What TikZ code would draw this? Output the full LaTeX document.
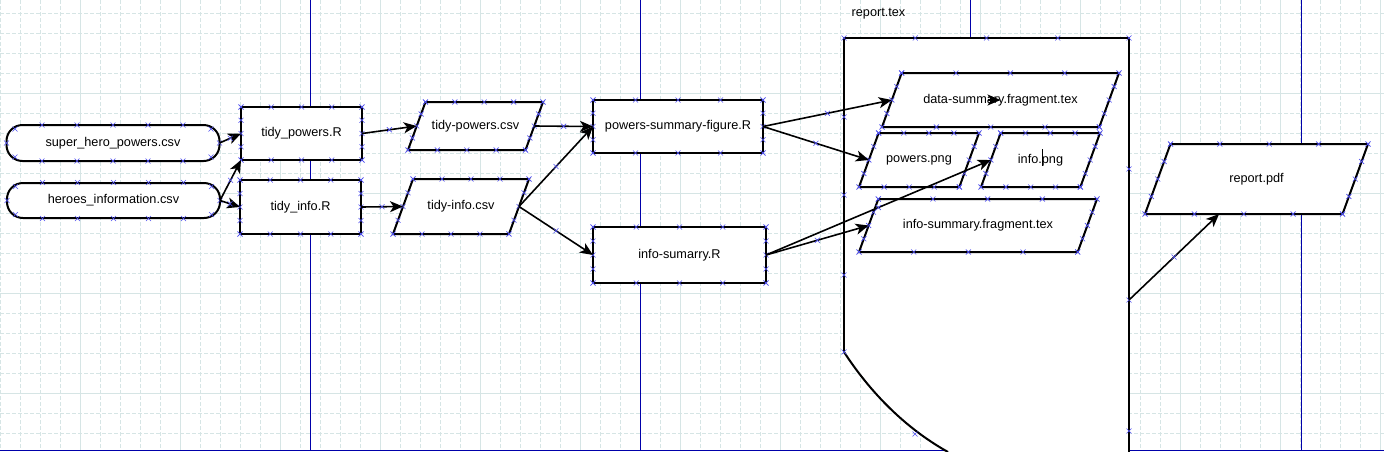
\documentclass[tikz,border=0pt]{standalone}
\usepackage{fontspec}
\setmainfont{Liberation Sans}
\usetikzlibrary{arrows.meta,calc}
\definecolor{gridc}{RGB}{214,229,229}
\definecolor{guide}{RGB}{0,0,170}
\definecolor{markc}{RGB}{80,80,240}
\newcommand\diaglbl{\fontsize{12.7}{15}\selectfont}
\tikzset{
  xmark/.pic={\draw[markc,line width=0.6pt,-,solid] (-2.5,-2.5)--(2.5,2.5) (-2.5,2.5)--(2.5,-2.5);},
  box/.style={draw, line width=2pt, fill=white, rectangle, inner sep=0pt, outer sep=0pt, font=\diaglbl},
  stad/.style={draw, line width=2pt, fill=white, rectangle, rounded corners=16pt, inner sep=0pt, outer sep=0pt, font=\diaglbl},
  paraline/.style={draw, line width=2pt, fill=white, line join=miter},
  conn/.style={draw, line width=1.6pt, -{Stealth[length=13pt,width=11pt,inset=3.5pt]}},
  gridminor/.style={gridc, line width=0.8pt, dash pattern=on 3.5pt off 2.5pt},
  gridmajor/.style={gridc, line width=0.8pt},
}
% marks at corners and quarter points of a four-sided shape: tl, tr, bl, br
\newcommand\quadmarks[4]{%
  \foreach \f in {0,0.25,0.5,0.75,1}{%
    \pic at ($(#1)!\f!(#2)$) {xmark};
    \pic at ($(#3)!\f!(#4)$) {xmark};
    \pic at ($(#1)!\f!(#3)$) {xmark};
    \pic at ($(#2)!\f!(#4)$) {xmark};
  }}
\newcommand\stadmarks[1]{%
  \foreach \dx/\dy in {-98/-14,-71/-18,-36/-18,0/-18,35/-18,70/-18,98/-14,
                       -98/14,-71/18,-36/18,0/18,35/18,70/18,98/14,-106.5/0,106.5/0}{%
    \pic at ($(#1.center)+(\dx,\dy)$) {xmark};
  }}
% parallelogram: name, cx, cy, width, height, text
\newcommand\para[6]{%
  \pgfmathsetmacro\pslant{0.364*#5}%
  \coordinate (#1-bl) at ({#2-#4/2},{#3+#5/2});
  \coordinate (#1-tl) at ({#2-#4/2+\pslant},{#3-#5/2});
  \coordinate (#1-tr) at ({#2+#4/2},{#3-#5/2});
  \coordinate (#1-br) at ({#2+#4/2-\pslant},{#3+#5/2});
  \path[paraline] (#1-bl) -- (#1-tl) -- (#1-tr) -- (#1-br) -- cycle;
  \coordinate (#1-l) at ($(#1-bl)!0.5!(#1-tl)$);
  \coordinate (#1-r) at ($(#1-br)!0.5!(#1-tr)$);
  \node[font=\diaglbl, inner sep=0pt] (#1) at (#2,#3) {#6};
}
\begin{document}
\begin{tikzpicture}[x=1pt,y=-1pt]
\useasboundingbox (0,0) rectangle (1384,451);
\clip (0,0) rectangle (1384,451);
\fill[white] (0,0) rectangle (1384,451);
% grid
\foreach \gx in {0,20,...,1380} \draw[gridminor] (\gx,0) -- (\gx,451);
\foreach \gy in {13,33,...,433} \draw[gridminor] (0,\gy) -- (1384,\gy);
\foreach \gx in {80,180,...,1380} \draw[gridmajor] (\gx,0) -- (\gx,451);
\foreach \gy in {93,193,293,393} \draw[gridmajor] (0,\gy) -- (1384,\gy);
% guides
\draw[guide,line width=1pt] (310,0)--(310,451) (640,0)--(640,451) (970,0)--(970,451) (1301,0)--(1301,451);
\draw[guide,line width=1.6pt] (0,450.3)--(1384,450.3);

% report.tex container
\node[minimum width=285pt, minimum height=524pt, inner sep=0pt, outer sep=0pt] (rtex) at (986.5,300) {};
\fill[white] (844,38) -- (1129,38) -- (1129,470) -- (960,470) -- (948,452)
  .. controls (905,428) and (870,392) .. (844,352) -- cycle;
\draw[line width=2pt] (844,352) -- (844,38) -- (1129,38) -- (1129,470);
\draw[line width=2pt] (844,352) .. controls (870,392) and (905,428) .. (948,452);
\node[font=\diaglbl, inner sep=0pt] (rtexlbl) at (878.5,14) {report.tex};
\foreach \mx/\my in {844/38,915.25/38,986.5/38,1057.75/38,1129/38,844/117,844/195,844/275,844/352,
                     1129/169,1129/300,1129/431,915/434}{\pic at (\mx,\my) {xmark};}

% nodes
\node[stad, minimum width=213pt, minimum height=36pt] (shp) at (113,143) {super\_hero\_powers.csv};
\node[stad, minimum width=213pt, minimum height=35pt] (her) at (113.5,200.5) {heroes\_information.csv};
\node[box, minimum width=121pt, minimum height=53pt] (tpow) at (301.5,133.5) {tidy\_powers.R};
\node[box, minimum width=121pt, minimum height=54pt] (tinfo) at (300.5,207) {tidy\_info.R};
\para{tpc}{475.5}{126}{135}{48}{tidy-powers.csv}
\para{tic}{461}{206.5}{136}{55}{tidy-info.csv}
\node[box, minimum width=170pt, minimum height=53pt] (psf) at (678,126.5) {powers-summary-figure.R};
\node[box, minimum width=173pt, minimum height=56pt] (ism) at (679.5,255) {info-sumarry.R};
\para{ds}{1000.5}{100}{237}{54}{data-summary.fragment.tex}
\para{ppng}{919}{160}{120}{54}{powers.png}
\para{ipng}{1040.5}{160}{119}{54}{info.png}
\para{isf}{978}{225.5}{238}{53}{info-summary.fragment.tex}
\para{pdf}{1256.5}{179}{223}{70}{report.pdf}

% connection marks
\stadmarks{shp}
\stadmarks{her}
\quadmarks{tpow.north west}{tpow.north east}{tpow.south west}{tpow.south east}
\quadmarks{tinfo.north west}{tinfo.north east}{tinfo.south west}{tinfo.south east}
\quadmarks{psf.north west}{psf.north east}{psf.south west}{psf.south east}
\quadmarks{ism.north west}{ism.north east}{ism.south west}{ism.south east}
\quadmarks{tpc-tl}{tpc-tr}{tpc-bl}{tpc-br}
\quadmarks{tic-tl}{tic-tr}{tic-bl}{tic-br}
\quadmarks{ds-tl}{ds-tr}{ds-bl}{ds-br}
\quadmarks{ppng-tl}{ppng-tr}{ppng-bl}{ppng-br}
\quadmarks{ipng-tl}{ipng-tr}{ipng-bl}{ipng-br}
\quadmarks{isf-tl}{isf-tr}{isf-bl}{isf-br}
\quadmarks{pdf-tl}{pdf-tr}{pdf-bl}{pdf-br}

% connectors
\draw[conn] (shp.east) -- pic[pos=0.5]{xmark} (tpow.west);
\draw[conn] (her.east) -- pic[pos=0.5]{xmark} (tpow.south west);
\draw[conn] (her.east) -- pic[pos=0.5]{xmark} (tinfo.west);
\draw[conn] (tpow.east) -- pic[pos=0.5]{xmark} (tpc-l);
\draw[conn] (tinfo.east) -- pic[pos=0.5]{xmark} (tic-l);
\draw[conn] (tpc-r) -- pic[pos=0.5]{xmark} (psf.west);
\draw[conn] (tic-r) -- pic[pos=0.5]{xmark} (psf.west);
\draw[conn] (tic-r) -- pic[pos=0.5]{xmark} (ism.west);
\draw[conn] (psf.east) -- pic[pos=0.5]{xmark} (ds-l);
\draw[conn] (psf.east) -- pic[pos=0.5]{xmark} (ppng-l);
\draw[conn] (ism.east) -- pic[pos=0.5]{xmark} (ipng-l);
\draw[conn] (ism.east) -- pic[pos=0.5]{xmark} (isf-l);
\draw[conn] (rtex.east) -- pic[pos=0.5]{xmark} ($(pdf-bl)!0.375!(pdf-br)$);

% stray artefacts
\draw[conn] ($(ds.center)+(-13,0)$) -- (ds.center);
\draw[line width=0.8pt] ($(ipng.center)+(1.5,-11)$) -- ($(ipng.center)+(1.5,6)$);
\end{tikzpicture}
\end{document}
